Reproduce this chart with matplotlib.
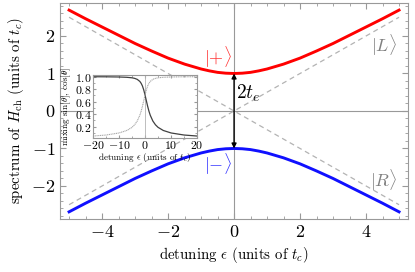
import numpy as np
import matplotlib
matplotlib.use("Agg")
import matplotlib.pyplot as plt
from matplotlib.ticker import MultipleLocator

plt.rcParams['font.family'] = 'serif'
plt.rcParams['font.serif'] = ['cmr10', 'DejaVu Serif']
plt.rcParams['mathtext.fontset'] = 'cm'
plt.rcParams['axes.formatter.use_mathtext'] = True

# spectrum
eps = [-5.0, -4.5, -4.0, -3.5, -3.0, -2.5, -2.0, -1.5, -1.0, -0.75, -0.5, -0.25, 0.0,
       0.25, 0.5, 0.75, 1.0, 1.5, 2.0, 2.5, 3.0, 3.5, 4.0, 4.5, 5.0]
e_plus = [2.69, 2.46, 2.24, 2.02, 1.80, 1.60, 1.41, 1.25, 1.12, 1.07, 1.03, 1.008, 1.00,
          1.008, 1.03, 1.07, 1.12, 1.25, 1.41, 1.60, 1.80, 2.02, 2.24, 2.46, 2.69]
e_minus = [-v for v in e_plus]
diab_x = [-5.0, 5.0]
diab_L = [-2.5, 2.5]
diab_R = [2.5, -2.5]

# inset: mixing coefficients
det = [-20, -15, -10, -7, -5, -4, -3, -2, -1.5, -1, -0.5, 0,
       0.5, 1, 1.5, 2, 3, 4, 5, 7, 10, 15, 20]
mix_dark = [0.999, 0.998, 0.995, 0.990, 0.982, 0.973, 0.957, 0.924, 0.894, 0.851, 0.788, 0.707,
            0.615, 0.526, 0.447, 0.383, 0.290, 0.230, 0.189, 0.139, 0.099, 0.066, 0.050]
mix_light = mix_dark[::-1]

fig = plt.figure(figsize=(4.15, 2.72), dpi=100)
ax = fig.add_axes([0.145, 0.195, 0.838, 0.794])

ax.axvline(0, color='0.6', lw=0.8, zorder=1)
ax.axhline(0, color='0.6', lw=0.8, zorder=1)
ax.plot(diab_x, diab_L, color='0.7', lw=0.9, ls=(0, (4, 3)), zorder=2)
ax.plot(diab_x, diab_R, color='0.7', lw=0.9, ls=(0, (4, 3)), zorder=2)
ax.plot(eps, e_plus, color='#ff0000', lw=2.1, zorder=3)
ax.plot(eps, e_minus, color='#1010ff', lw=2.1, zorder=3)

ax.annotate('', xy=(0, 1.0), xytext=(0, -1.0),
            arrowprops=dict(arrowstyle='<|-|>', color='black', lw=1.0,
                            mutation_scale=7, shrinkA=0, shrinkB=0), zorder=4)
ax.text(0.06, 0.47, r'$2t_e$', fontsize=14, va='center', ha='left')
ax.text(-0.08, 1.42, r'$|{+}\rangle$', color='#ff3030', fontsize=13, ha='right', va='center')
ax.text(-0.08, -1.42, r'$|{-}\rangle$', color='#3030ff', fontsize=13, ha='right', va='center')
ax.text(4.95, 1.76, r'$|L\rangle$', color='0.5', fontsize=13, ha='right', va='center')
ax.text(4.95, -1.85, r'$|R\rangle$', color='0.5', fontsize=13, ha='right', va='center')

ax.set_xlim(-5.27, 5.27)
ax.set_ylim(-2.88, 2.88)
ax.xaxis.set_major_locator(MultipleLocator(2))
ax.xaxis.set_minor_locator(MultipleLocator(0.5))
ax.yaxis.set_major_locator(MultipleLocator(1))
ax.yaxis.set_minor_locator(MultipleLocator(0.2))
ax.tick_params(which='both', direction='in', top=True, right=True, color='0.6', labelsize=13)
ax.tick_params(which='major', length=4)
ax.tick_params(which='minor', length=2)
for s in ax.spines.values():
    s.set_color('0.6')
ax.set_xlabel(r'detuning $\epsilon$ (units of $t_c$)', fontsize=10.7)
ax.set_ylabel(r'spectrum of $H_{\rm ch}$ (units of $t_c$)', fontsize=10.7)

axi = fig.add_axes([0.224, 0.493, 0.251, 0.232])
axi.axvline(0, color='0.7', lw=0.6)
axi.plot(det, mix_dark, color='0.25', lw=0.9)
axi.plot(det, mix_light, color='0.65', lw=0.8, ls=(0, (1, 0.6)))
axi.set_xlim(-20, 20)
axi.set_ylim(0.02, 1.03)
axi.set_xticks([-20, -10, 0, 10, 20])
axi.set_yticks([0.2, 0.4, 0.6, 0.8, 1.0])
axi.xaxis.set_minor_locator(MultipleLocator(5))
axi.yaxis.set_minor_locator(MultipleLocator(0.1))
axi.tick_params(which='both', direction='in', top=True, right=True, color='0.6',
                labelsize=8.5, pad=1)
axi.tick_params(which='major', length=2.5)
axi.tick_params(which='minor', length=1.2)
for s in axi.spines.values():
    s.set_color('0.6')
axi.set_xlabel(r'detuning $\epsilon$ (units of $t_c$)', fontsize=6.6, labelpad=0)
axi.set_ylabel(r'mixing $\sin[\theta]$, $\cos[\theta]$', fontsize=6.6, labelpad=1)

fig.savefig('out.png', dpi=100)
